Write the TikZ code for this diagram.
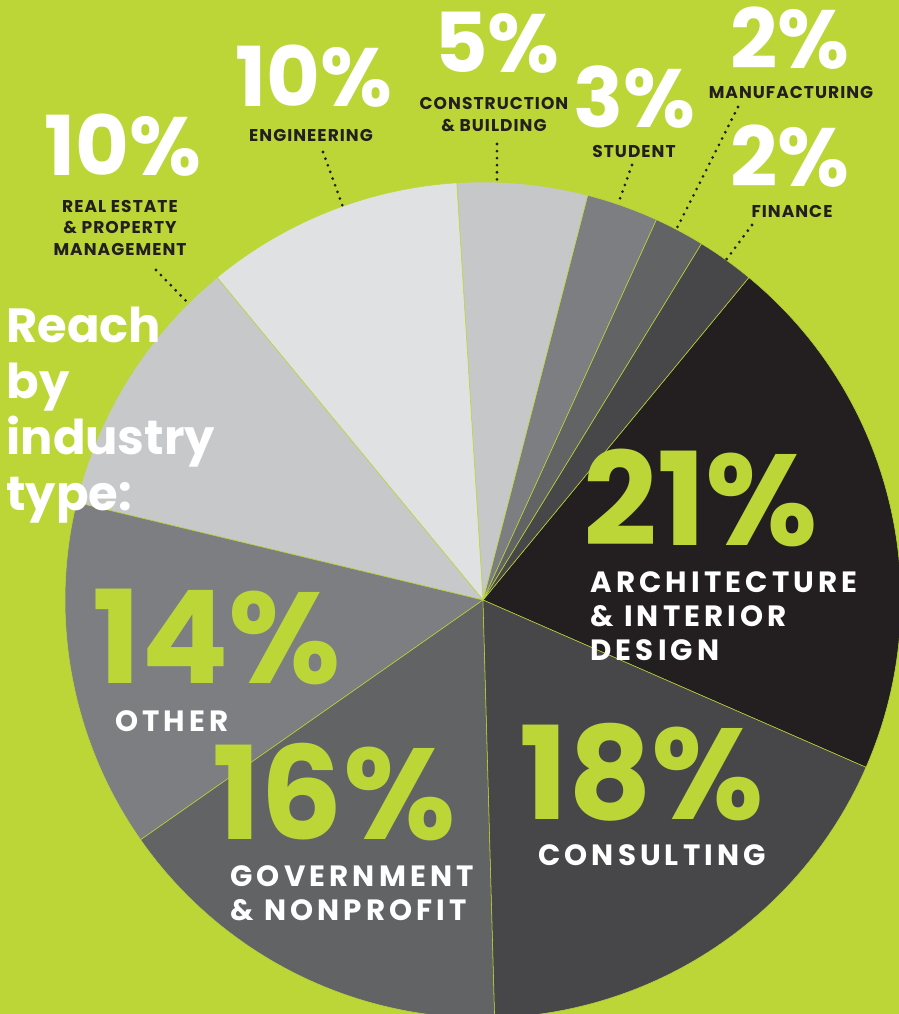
\documentclass[tikz,border=0pt]{standalone}
\usepackage{fontspec}
\setmainfont{Poppins}
\newfontfamily\capfont[LetterSpace=6]{Poppins}
\newfontfamily\widecapfont[LetterSpace=14]{Poppins}

\definecolor{lime}{RGB}{188,214,55}
\definecolor{ink}{RGB}{35,31,32}
\definecolor{cArch}{RGB}{35,31,32}
\definecolor{cCsl}{RGB}{71,71,73}
\definecolor{cGov}{RGB}{98,99,101}
\definecolor{cOth}{RGB}{125,126,129}
\definecolor{cRE}{RGB}{199,200,202}
\definecolor{cEng}{RGB}{224,225,227}
\definecolor{cCon}{RGB}{198,199,201}
\definecolor{cStu}{RGB}{125,126,129}
\definecolor{cMan}{RGB}{98,99,101}
\definecolor{cFin}{RGB}{71,71,73}

\tikzset{every picture/.style={line width=0.75pt}}

\begin{document}
\begin{tikzpicture}[x=0.75pt,y=0.75pt,yscale=-1,xscale=1,
  sector/.style={draw=lime,line width=0.4pt},
  leader/.style={draw=ink,line width=2.3pt,line cap=round,dash pattern=on 0pt off 5.3pt},
  bigpct/.style={text=lime,font=\bfseries\fontsize{97}{97}\selectfont,inner sep=0pt},
  toppct/.style={text=white,font=\bfseries\fontsize{62}{62}\selectfont,inner sep=0pt},
  smallcap/.style={text=ink,font=\capfont\bfseries\fontsize{12.8}{16.1}\selectfont,inner sep=0pt,align=center},
  piecap/.style={text=white,font=\widecapfont\bfseries\fontsize{22}{25.3}\selectfont,inner sep=0pt,align=left}]
\useasboundingbox (0,0) rectangle (899,1014);
\clip (0,0) rectangle (899,1014);
\fill[lime] (0,0) rectangle (899,1014);

%Shape: Pie sectors
\begin{scope}[shift={(483,600)}]
\draw[sector,fill=cArch] (0,0) -- (23.6:418) arc[start angle=23.6,end angle=-50.5,radius=418] -- cycle;
\draw[sector,fill=cFin] (0,0) -- (-50.5:418) arc[start angle=-50.5,end angle=-58.5,radius=418] -- cycle;
\draw[sector,fill=cMan] (0,0) -- (-58.5:418) arc[start angle=-58.5,end angle=-65.5,radius=418] -- cycle;
\draw[sector,fill=cStu] (0,0) -- (-65.5:418) arc[start angle=-65.5,end angle=-75.5,radius=418] -- cycle;
\draw[sector,fill=cCon] (0,0) -- (-75.5:418) arc[start angle=-75.5,end angle=-93.6,radius=418] -- cycle;
\draw[sector,fill=cEng] (0,0) -- (-93.6:418) arc[start angle=-93.6,end angle=-129.5,radius=418] -- cycle;
\draw[sector,fill=cRE] (0,0) -- (-129.5:418) arc[start angle=-129.5,end angle=-166.5,radius=418] -- cycle;
\draw[sector,fill=cOth] (0,0) -- (-166.5:418) arc[start angle=-166.5,end angle=-215,radius=418] -- cycle;
\draw[sector,fill=cGov] (0,0) -- (-215:418) arc[start angle=-215,end angle=-271.6,radius=418] -- cycle;
\draw[sector,fill=cCsl] (0,0) -- (-271.6:418) arc[start angle=-271.6,end angle=-336.4,radius=418] -- cycle;
\end{scope}

% Text Node
\node[anchor=north west,inner sep=0pt,align=left,text=white,font=\bfseries\fontsize{36}{42}\selectfont] (title) at (6,306) {Reach\\by\\industry\\type:};

% Text Node
\node[toppct] (pctRE) at (123,145) {10\%};
\node[smallcap] (lblRE) at (120,227.5) {REAL ESTATE\\\& PROPERTY\\MANAGEMENT};
\node[toppct] (pctEng) at (314,76) {10\%};
\node[smallcap] (lblEng) at (311,135) {ENGINEERING};
\node[toppct] (pctCon) at (497,43) {5\%};
\node[smallcap] (lblCon) at (494,114.5) {CONSTRUCTION\\\& BUILDING};
\node[toppct] (pctStu) at (634,97) {3\%};
\node[smallcap] (lblStu) at (634,151.5) {STUDENT};
\node[toppct] (pctMan) at (790,38) {2\%};
\node[smallcap] (lblMan) at (791,92) {MANUFACTURING};
\node[toppct] (pctFin) at (790,156) {2\%};
\node[smallcap] (lblFin) at (792,211) {FINANCE};

% Text Node
\node[bigpct] (pctArc) at (701,498) {21\%};
\node[piecap,anchor=west] (lblArc) at (590,616) {ARCHITECTURE\\\& INTERIOR\\DESIGN};
\node[bigpct] (pctCsl) at (642,772) {18\%};
\node[piecap] (lblCsl) at (652,855) {CONSULTING};
\node[bigpct] (pctGov) at (334,792) {16\%};
\node[piecap,anchor=west] (lblGov) at (230,893.5) {GOVERNMENT\\\& NONPROFIT};
\node[bigpct] (pctOth) at (217,637) {14\%};
\node[piecap] (lblOth) at (172,721) {OTHER};

%Dotted leaders
\coordinate (topRE) at (156,270);  \coordinate (rimRE) at (188,303);
\coordinate (topEng) at (323,152); \coordinate (rimEng) at (343,207);
\coordinate (topCon) at (497,144); \coordinate (rimCon) at (497,183);
\coordinate (topStu) at (632,165); \coordinate (rimStu) at (618,204);
\coordinate (topMan) at (738,107); \coordinate (rimMan) at (677,228);
\coordinate (topFin) at (752,225); \coordinate (rimFin) at (726,260);
\draw[leader] (topRE) -- (rimRE);
\draw[leader] (topEng) -- (rimEng);
\draw[leader] (topCon) -- (rimCon);
\draw[leader] (topStu) -- (rimStu);
\draw[leader] (topMan) -- (rimMan);
\draw[leader] (topFin) -- (rimFin);

\end{tikzpicture}
\end{document}
